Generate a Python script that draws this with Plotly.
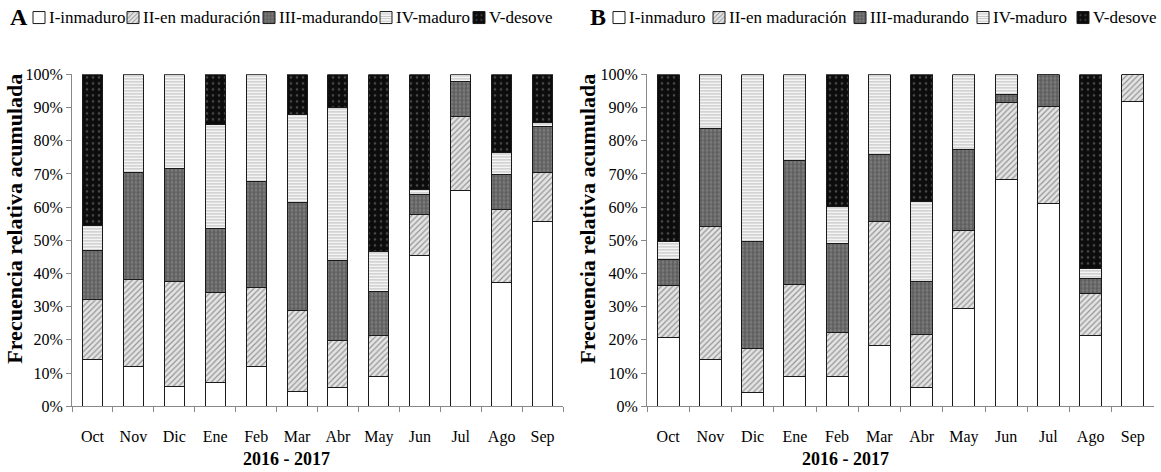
import plotly.graph_objects as go

# Months of the sampling period
months = ["Oct", "Nov", "Dic", "Ene", "Feb", "Mar", "Abr", "May", "Jun", "Jul", "Ago", "Sep"]
stages = ["I-inmaduro", "II-en maduración", "III-madurando", "IV-maduro", "V-desove"]

# Panel A: percentage of each maturity stage per month
a_I = [14.0, 11.9, 6.1, 7.2, 12.1, 4.3, 5.5, 9.0, 45.4, 64.9, 37.2, 55.7]
a_II = [18.1, 26.3, 31.6, 27.1, 23.6, 24.7, 14.3, 12.4, 12.3, 22.5, 22.2, 14.6]
a_III = [14.8, 32.3, 33.8, 19.3, 31.9, 32.4, 24.2, 13.1, 6.1, 10.4, 10.4, 14.0]
a_IV = [7.7, 29.5, 28.5, 31.4, 32.4, 26.5, 46.0, 12.2, 1.6, 2.2, 6.8, 1.2]
a_V = [45.4, 0.0, 0.0, 15.0, 0.0, 12.1, 10.0, 53.3, 34.6, 0.0, 23.4, 14.5]

# Panel B: percentage of each maturity stage per month
b_I = [20.8, 14.0, 4.2, 9.0, 9.0, 18.2, 5.6, 29.5, 68.3, 61.2, 21.4, 91.8]
b_II = [15.7, 40.3, 13.2, 27.7, 13.2, 37.5, 16.0, 23.6, 23.3, 29.1, 12.6, 8.2]
b_III = [7.8, 29.3, 32.2, 37.4, 26.9, 20.1, 16.1, 24.2, 2.3, 9.7, 4.4, 0.0]
b_IV = [5.3, 16.4, 50.4, 25.9, 11.2, 24.2, 24.1, 22.7, 6.1, 0.0, 3.1, 0.0]
b_V = [50.4, 0.0, 0.0, 0.0, 39.7, 0.0, 38.2, 0.0, 0.0, 0.0, 58.5, 0.0]

y_ticks = list(range(0, 101, 10))
x_title = "2016 - 2017"
y_title = "Frecuencia relativa acumulada"

W, H = 1161, 472
FONT = "Liberation Serif"


def px(x):
    return x / W


def py(y):
    return 1 - y / H


# Fill style of each stage
styles = [
    dict(color="white", pattern=dict(shape="")),
    dict(color="#d8d8d8", pattern=dict(shape="/", fgcolor="#444", bgcolor="#e4e4e4", size=4, solidity=0.3)),
    dict(color="#666", pattern=dict(shape="+", fgcolor="#333", bgcolor="#7c7c7c", size=4, solidity=0.5)),
    dict(color="#eee", pattern=dict(shape="-", fgcolor="#777", bgcolor="#f4f4f4", size=3, solidity=0.3)),
    dict(color="#111", pattern=dict(shape=".", fgcolor="#888", bgcolor="#0c0c0c", size=6, solidity=0.15)),
]

LEG_Y = 9
panels = [
    dict(xa="x", ya="y", data=[a_I, a_II, a_III, a_IV, a_V], width=0.49,
         txt_x=[47, 141, 277, 394, 487]),
    dict(xa="x2", ya="y2", data=[b_I, b_II, b_III, b_IV, b_V], width=0.52,
         txt_x=[627, 727, 868, 991, 1091]),
]

fig = go.Figure()
legend_layouts = {}
annotations = []
k = 0
for p in panels:
    for i, (stage, vals) in enumerate(zip(stages, p["data"])):
        k += 1
        lname = "legend" if k == 1 else f"legend{k}"
        st = styles[i]
        fig.add_trace(go.Bar(
            x=months, y=vals, name="", xaxis=p["xa"], yaxis=p["ya"],
            width=p["width"],
            marker=dict(color=st["color"], pattern=st["pattern"],
                        line=dict(color="#1a1a1a", width=1)),
            legend=lname, showlegend=True, hovertemplate=stage + ": %{y}%<extra></extra>",
        ))
        # legend box holds only the swatch; the label is an annotation right after it
        legend_layouts[lname] = dict(
            x=px(p["txt_x"][i] - 28), y=py(LEG_Y), xanchor="left", yanchor="middle",
            orientation="h", bgcolor="rgba(0,0,0,0)", borderwidth=0,
            font=dict(family=FONT, size=17, color="black"), itemclick=False,
            itemdoubleclick=False,
        )
        annotations.append(dict(
            text=stage, x=px(p["txt_x"][i]), y=py(LEG_Y), xref="paper", yref="paper",
            xanchor="left", yanchor="middle", showarrow=False,
            font=dict(family=FONT, size=17, color="black"),
        ))

# Panel letters, axis titles
for letter, x in [("A", 19), ("B", 598)]:
    annotations.append(dict(text=f"<b>{letter}</b>", x=px(x), y=py(8), xref="paper", yref="paper",
                            showarrow=False, xanchor="center", yanchor="middle",
                            font=dict(family=FONT, size=24, color="black")))
for x in [286, 845]:
    annotations.append(dict(text=f"<b>{x_title}</b>", x=px(x), y=py(468), xref="paper", yref="paper",
                            showarrow=False, xanchor="center", yanchor="middle",
                            font=dict(family=FONT, size=18, color="black")))
for x in [15, 588]:
    annotations.append(dict(text=f"<b>{y_title}</b>", x=px(x), y=py(218), xref="paper", yref="paper",
                            showarrow=False, xanchor="center", yanchor="middle", textangle=-90,
                            font=dict(family=FONT, size=22, color="black")))

xaxis_common = dict(
    type="category", showline=True, linecolor="#888", linewidth=1, ticks="outside",
    tickson="boundaries", ticklen=5, tickcolor="#888", showgrid=False, zeroline=False,
    ticklabelstandoff=16,
    tickfont=dict(family=FONT, size=16, color="black"),
)
yaxis_common = dict(
    range=[0, 100], tickvals=y_ticks, ticktext=[f"{v}%" for v in y_ticks],
    showline=True, linecolor="#888", linewidth=1, ticks="outside", ticklen=5,
    tickcolor="#888", showgrid=False, zeroline=False,
    tickfont=dict(family=FONT, size=16, color="black"),
)

fig.update_layout(
    width=W, height=H, margin=dict(l=0, r=0, t=0, b=0),
    paper_bgcolor="white", plot_bgcolor="white", barmode="stack",
    annotations=annotations,
    xaxis=dict(xaxis_common, domain=[px(72), px(563)], anchor="y"),
    yaxis=dict(yaxis_common, domain=[py(413), py(68)], anchor="x"),
    xaxis2=dict(xaxis_common, domain=[px(647), px(1154)], anchor="y2"),
    yaxis2=dict(yaxis_common, domain=[py(413), py(68)], anchor="x2"),
    **legend_layouts,
)

fig.write_html("out.html", config={"displayModeBar": False})
